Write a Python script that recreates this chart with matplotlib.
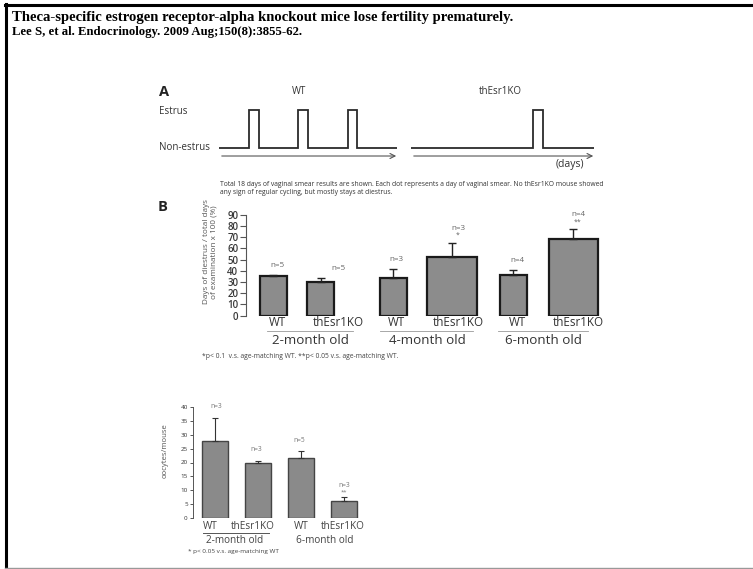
import matplotlib
matplotlib.use('Agg')
import matplotlib.pyplot as plt
from matplotlib.lines import Line2D
import numpy as np

plt.rcParams['font.family'] = 'Open Sans'

W, H = 753, 569

# panel A: 18 days of vaginal smear, 1 = estrus, 0 = non-estrus
wt_cycle = [0, 0, 0, 1, 0, 0, 0, 0, 1, 0, 0, 0, 0, 1, 0, 0, 0, 0]
ko_cycle = [0, 0, 0, 0, 0, 0, 0, 0, 0, 0, 0, 0, 1, 0, 0, 0, 0, 0]

# panel B: days of diestrus (%)
b_groups = ['2-month old', '4-month old', '6-month old']
b_labels = ['WT', 'thEsr1KO', 'WT', 'thEsr1KO', 'WT', 'thEsr1KO']
b_values = [35, 30, 33.5, 52, 36.5, 68.5]
b_errors = [1, 3.5, 8, 13, 4, 8.5]
b_n = ['n=5', 'n=5', 'n=3', 'n=3', 'n=4', 'n=4']
b_stars = ['', '', '', '*', '', '**']

# panel C: oocytes per mouse
c_groups = ['2-month old', '6-month old']
c_labels = ['WT', 'thEsr1KO', 'WT', 'thEsr1KO']
c_values = [27.7, 20, 21.7, 6.3]
c_errors = [8.2, 0.5, 2.3, 1.2]
c_n = ['n=3', 'n=3', 'n=5', 'n=3']
c_stars = ['', '', '', '**']

fig = plt.figure(figsize=(W / 100, H / 100), dpi=100)


def box(x0, y0, x1, y1):
    # pixel rectangle -> figure fraction
    return [x0 / W, 1 - y1 / H, (x1 - x0) / W, (y1 - y0) / H]


def ftext(x, y, s, **kw):
    kw.setdefault('va', 'center')
    return fig.text(x / W, 1 - y / H, s, **kw)


# page frame
fig.add_artist(Line2D([5 / W, 1], [1 - 4.5 / H] * 2, color='black', lw=2.2))
fig.add_artist(Line2D([6 / W] * 2, [1 - 4 / H, 1 - 567 / H], color='black', lw=2.2))
fig.add_artist(Line2D([5 / W, 1], [1 - 567.5 / H] * 2, color='#999999', lw=1))

ftext(12, 17.5, 'Theca-specific estrogen receptor-alpha knockout mice lose fertility prematurely.',
      family='Liberation Serif', weight='bold', size=10.6)
ftext(12, 32.5, 'Lee S, et al. Endocrinology. 2009 Aug;150(8):3855-62.',
      family='Liberation Serif', weight='bold', size=9.2)

# ---- panel A ----
for cyc, rect in [(wt_cycle, box(219, 100, 397, 162)), (ko_cycle, box(411, 100, 594, 162))]:
    ax = fig.add_axes(rect)
    edges = np.arange(len(cyc) + 1)
    ax.stairs(cyc, edges, baseline=None, color='#2b2b2b', lw=1.3)
    ax.annotate('', xy=(len(cyc) + 0.2, -0.22), xytext=(0, -0.22),
                arrowprops=dict(arrowstyle='->', color='#555555', lw=0.8,
                                mutation_scale=9), annotation_clip=False)
    ax.set_xlim(0, len(cyc))
    ax.set_ylim(-0.379, 1.265)
    ax.axis('off')

ftext(159, 92, 'A', size=10.5, weight='bold', color='#222222')
ftext(299, 92, 'WT', size=7, ha='center', color='#333333')
ftext(500, 92, 'thEsr1KO', size=7, ha='center', color='#333333')
ftext(159, 112, 'Estrus', size=7, color='#333333')
ftext(159, 147.5, 'Non-estrus', size=7, color='#333333')
ftext(570, 165, '(days)', size=7.5, ha='center', color='#333333')
ftext(220, 184, 'Total 18 days of vaginal smear results are shown. Each dot represents a day of vaginal smear. '
      'No thEsr1KO mouse showed', size=4.9, color='#333333')
ftext(220, 193, 'any sign of regular cycling, but mostly stays at diestrus.', size=4.9, color='#333333')

# ---- panel B ----
b_pos = [0.54, 1.49, 2.94, 4.12, 5.34, 6.54]
b_width = [0.54, 0.54, 0.54, 1.0, 0.54, 0.98]
b_label_x = [0.62, 1.84, 3.0, 4.24, 5.42, 6.64]

axb = fig.add_axes(box(246, 214.7, 610, 315.7))
axb.bar(b_pos, b_values, width=b_width, color='#8c8c8c', edgecolor='#1a1a1a', lw=1.6)
axb.errorbar(b_pos, b_values, yerr=[np.zeros(len(b_errors)), b_errors], fmt='none',
             ecolor='#222222', elinewidth=1, capsize=3, capthick=1)
axb.set_xlim(0, 7.28)
axb.set_ylim(0, 90)
axb.set_yticks(range(0, 91, 10))
axb.set_xticks([])
for s in ['top', 'right', 'bottom']:
    axb.spines[s].set_visible(False)
axb.spines['left'].set_color('#555555')
axb.spines['left'].set_linewidth(0.8)
axb.tick_params(axis='y', length=4, width=0.8, color='#555555', labelsize=7,
                labelcolor='#3a3a3a', pad=1.5)
for t in axb.get_yticklabels():
    t.set_fontweight('semibold')

for x, lab in zip(b_label_x, b_labels):
    axb.text(x, -6.5, lab, ha='center', va='center', size=8.4, color='#333333', clip_on=False)
for x, v, e, n, st in zip(b_label_x, b_values, b_errors, b_n, b_stars):
    top = v + e
    if st:
        axb.text(x, top + 6.5, st, ha='center', va='center', size=5, color='#666666')
        axb.text(x, top + 12.8, n, ha='center', va='center', size=5.8, color='#666666')
    else:
        axb.text(x, top + 8.5, n, ha='center', va='center', size=5.8, color='#666666')

b_spans = [(0.42, 2.14), (2.68, 4.54), (5.04, 6.84)]
b_group_x = [1.28, 3.62, 5.94]
for (x0, x1), gx, g in zip(b_spans, b_group_x, b_groups):
    axb.plot([x0, x1], [-13.4, -13.4], color='#999999', lw=0.6, clip_on=False)
    axb.text(gx, -22.5, g, ha='center', va='center', size=9.6, color='#333333', clip_on=False)

ftext(158, 207, 'B', size=10.5, weight='bold', color='#222222')
ftext(210, 252, 'Days of diestrus / total days\nof examination x 100 (%)', size=5.9,
      rotation=90, ha='center', multialignment='center', linespacing=1.15, color='#555555')
ftext(202, 357, '*p< 0.1  v.s. age-matching WT. **p< 0.05 v.s. age-matching WT.',
      size=4.9, color='#444444')

# ---- panel C ----
c_pos = [0.5, 1.5, 2.5, 3.5]
c_label_x = [0.39, 1.39, 2.52, 3.48]
c_n_x = [0.53, 1.47, 2.46, 3.5]

axc = fig.add_axes(box(193.3, 406.7, 373.9, 518.3))
axc.bar(c_pos, c_values, width=0.6, color='#8a8a8a', edgecolor='#444444', lw=1)
axc.errorbar(c_pos, c_values, yerr=[np.zeros(len(c_errors)), c_errors], fmt='none',
             ecolor='#333333', elinewidth=0.8, capsize=2, capthick=0.8)
axc.set_xlim(0, 4.2)
axc.set_ylim(0, 40)
axc.set_yticks(range(0, 41, 5))
axc.set_xticks([])
for s in ['top', 'right', 'bottom']:
    axc.spines[s].set_visible(False)
axc.spines['left'].set_color('#555555')
axc.spines['left'].set_linewidth(0.7)
axc.tick_params(axis='y', length=2.5, width=0.7, color='#555555', labelsize=4.5,
                labelcolor='#333333', pad=1.5)

for x, lab in zip(c_label_x, c_labels):
    axc.text(x, -3.0, lab, ha='center', va='center', size=7.2, color='#444444', clip_on=False)
for x, v, e, n, st in zip(c_n_x, c_values, c_errors, c_n, c_stars):
    top = v + e
    if st:
        axc.text(x, top + 2.0, st, ha='center', va='center', size=4.2, color='#777777')
        axc.text(x, top + 4.4, n, ha='center', va='center', size=4.8, color='#777777')
    else:
        axc.text(x, top + 4.0, n, ha='center', va='center', size=4.8, color='#777777')

axc.plot([0.22, 1.77], [-5.2, -5.2], color='#555555', lw=0.7, clip_on=False)
for gx, g in zip([0.97, 3.06], c_groups):
    axc.text(gx, -8.0, g, ha='center', va='center', size=7.2, color='#444444', clip_on=False)

ftext(165, 451, 'oocytes/mouse', size=5.6, rotation=90, ha='center', color='#555555')
ftext(188, 552, '* p< 0.05 v.s. age-matching WT', size=4.6, color='#444444')

fig.savefig('out.png', dpi=100)
